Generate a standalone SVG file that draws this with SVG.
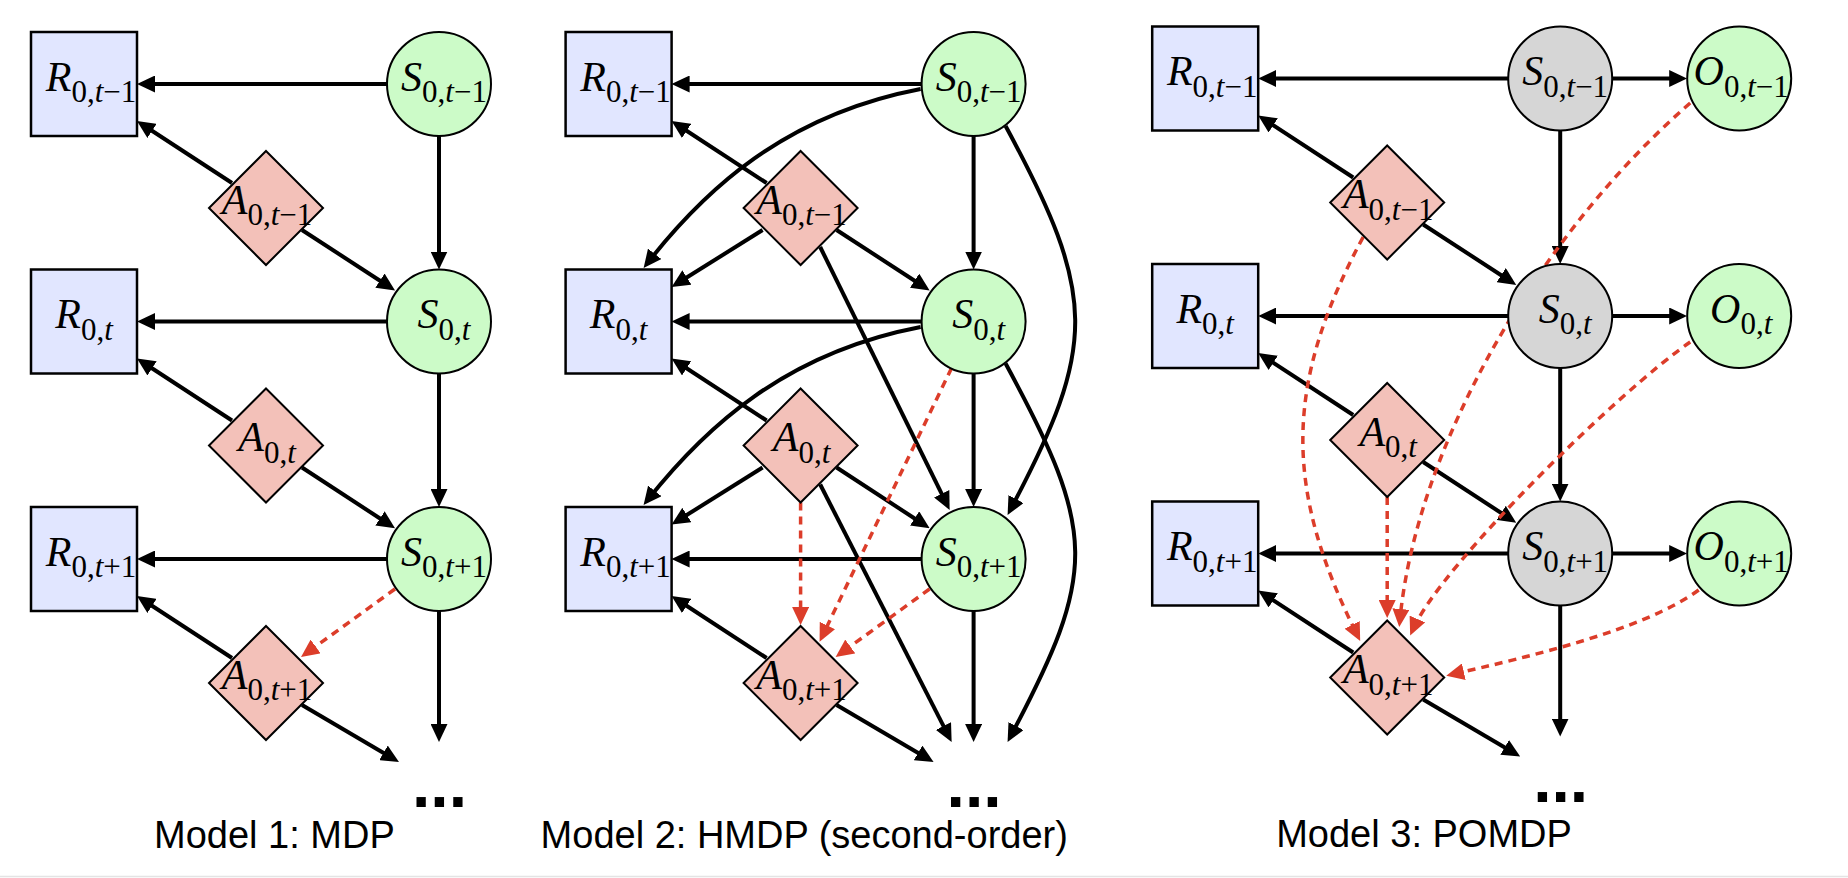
<svg xmlns="http://www.w3.org/2000/svg" width="1848" height="878" viewBox="0 0 1848 878">
<defs>
<style>
.rn{fill:#e1e6ff;stroke:#000;stroke-width:2.5}
.sn{fill:#ccfbc8;stroke:#000;stroke-width:2}
.gn{fill:#d6d6d6;stroke:#000;stroke-width:2}
.an{fill:#f3c1b9;stroke:#000;stroke-width:2}
.e{fill:none;stroke:#000;stroke-width:4;marker-end:url(#ab)}
.d{fill:none;stroke:#dc3d2a;stroke-width:3.5;stroke-dasharray:8 6;marker-end:url(#ar)}
.lb{font-family:"Liberation Serif","Times New Roman",serif;font-size:42px;text-anchor:middle;fill:#000}
.sb{font-size:31px;font-style:normal}
.it{font-style:italic}
.cap{font-family:"Liberation Sans",Arial,Helvetica,sans-serif;font-size:38px;fill:#000}
.dots{font-family:"Liberation Sans",Arial,Helvetica,sans-serif;font-size:66px;font-weight:bold;text-anchor:middle;fill:#000}
</style>
<marker id="ab" markerUnits="userSpaceOnUse" markerWidth="18" markerHeight="17" viewBox="0 0 18 17" refX="12" refY="8.5" orient="auto"><path d="M0,0 L18,8.5 L0,17 Z" fill="#000"/></marker>
<marker id="ar" markerUnits="userSpaceOnUse" markerWidth="18" markerHeight="17" viewBox="0 0 18 17" refX="12" refY="8.5" orient="auto"><path d="M0,0 L18,8.5 L0,17 Z" fill="#dc3d2a"/></marker>
</defs>
<rect x="0" y="0" width="1848" height="878" fill="#fff"/>
<line x1="0" y1="876.5" x2="1848" y2="876.5" stroke="#e4e4e4" stroke-width="1.5"/>

<!-- Model 1 -->
<g id="model1">
<g id="m1-connectors">
<path class="e" d="M387,84 H143"/>
<path class="e" d="M387,321.5 H143"/>
<path class="e" d="M387,559 H143"/>
<path class="e" d="M232,183 L142,124.3"/>
<path class="e" d="M232,420.5 L142,361.8"/>
<path class="e" d="M232,658 L142,599.3"/>
<path class="e" d="M302,230 L390,287.2"/>
<path class="e" d="M302,467.5 L390,525"/>
<path class="e" d="M302,705 L393.8,759"/>
<path class="e" d="M439,136 V263.5"/>
<path class="e" d="M439,373.5 V501"/>
<path class="e" d="M439,611 V736"/>
<path class="d" d="M395,589 L305.9,653.5"/>
</g>
<g id="m1-R0"><rect class="rn" x="31" y="32" width="106" height="104"/><text class="lb" x="91" y="90.5"><tspan class="it">R</tspan><tspan class="sb" dy="11.5">0,<tspan class="it">t</tspan>−1</tspan></text></g>
<g id="m1-R1"><rect class="rn" x="31" y="269.5" width="106" height="104"/><text class="lb" x="84" y="328"><tspan class="it">R</tspan><tspan class="sb" dy="11.5">0,<tspan class="it">t</tspan></tspan></text></g>
<g id="m1-R2"><rect class="rn" x="31" y="507" width="106" height="104"/><text class="lb" x="91" y="565.5"><tspan class="it">R</tspan><tspan class="sb" dy="11.5">0,<tspan class="it">t</tspan>+1</tspan></text></g>
<g id="m1-S0"><circle class="sn" cx="439" cy="84" r="52"/><text class="lb" x="444" y="90.5"><tspan class="it">S</tspan><tspan class="sb" dy="11.5">0,<tspan class="it">t</tspan>−1</tspan></text></g>
<g id="m1-S1"><circle class="sn" cx="439" cy="321.5" r="52"/><text class="lb" x="444" y="328"><tspan class="it">S</tspan><tspan class="sb" dy="11.5">0,<tspan class="it">t</tspan></tspan></text></g>
<g id="m1-S2"><circle class="sn" cx="439" cy="559" r="52"/><text class="lb" x="444" y="565.5"><tspan class="it">S</tspan><tspan class="sb" dy="11.5">0,<tspan class="it">t</tspan>+1</tspan></text></g>
<g id="m1-A0"><path class="an" d="M266,151 L323,208 L266,265 L209,208 Z"/><text class="lb" x="267" y="213.5"><tspan class="it">A</tspan><tspan class="sb" dy="11.5">0,<tspan class="it">t</tspan>−1</tspan></text></g>
<g id="m1-A1"><path class="an" d="M266,388.5 L323,445.5 L266,502.5 L209,445.5 Z"/><text class="lb" x="267" y="451"><tspan class="it">A</tspan><tspan class="sb" dy="11.5">0,<tspan class="it">t</tspan></tspan></text></g>
<g id="m1-A2"><path class="an" d="M266,626 L323,683 L266,740 L209,683 Z"/><text class="lb" x="267" y="688.5"><tspan class="it">A</tspan><tspan class="sb" dy="11.5">0,<tspan class="it">t</tspan>+1</tspan></text></g>
<g id="m1-more"><text class="dots" x="439.5" y="807">...</text></g>
<text class="cap" x="154" y="848">Model 1: MDP</text>
</g>

<!-- Model 2 -->
<g id="model2" transform="translate(534.6,0)">
<g id="m2-connectors">
<path class="e" d="M387,84 H143"/>
<path class="e" d="M387,321.5 H143"/>
<path class="e" d="M387,559 H143"/>
<path class="e" d="M232,183 L142,124.3"/>
<path class="e" d="M232,420.5 L142,361.8"/>
<path class="e" d="M232,658 L142,599.3"/>
<path class="e" d="M302,230 L390,287.2"/>
<path class="e" d="M302,467.5 L390,525"/>
<path class="e" d="M302,705 L393.8,759"/>
<path class="e" d="M439,136 V263.5"/>
<path class="e" d="M439,373.5 V501"/>
<path class="e" d="M439,611 V736"/>
<path class="e" d="M386,89 C250,115 170,190 112.7,263.3"/>
<path class="e" d="M386,327 C250,353 170,428 112.7,500.3"/>
<path class="e" d="M228,230 L142.1,283.8"/>
<path class="e" d="M228,467.5 L142.1,521.3"/>
<path class="e" d="M285.6,247 L412.4,504.6"/>
<path class="e" d="M285.6,484.5 L414.3,736.7"/>
<path class="e" d="M471,126 C563,296 563,345 475.8,509.7"/>
<path class="e" d="M471,363.5 C563,533 563,572 475.8,736.7"/>
<path class="d" d="M266,502.5 V619"/>
<path class="d" d="M417,368 L287.6,636.3"/>
<path class="d" d="M395,589 L305.9,653.5"/>
</g>
<g id="m2-R0"><rect class="rn" x="31" y="32" width="106" height="104"/><text class="lb" x="91" y="90.5"><tspan class="it">R</tspan><tspan class="sb" dy="11.5">0,<tspan class="it">t</tspan>−1</tspan></text></g>
<g id="m2-R1"><rect class="rn" x="31" y="269.5" width="106" height="104"/><text class="lb" x="84" y="328"><tspan class="it">R</tspan><tspan class="sb" dy="11.5">0,<tspan class="it">t</tspan></tspan></text></g>
<g id="m2-R2"><rect class="rn" x="31" y="507" width="106" height="104"/><text class="lb" x="91" y="565.5"><tspan class="it">R</tspan><tspan class="sb" dy="11.5">0,<tspan class="it">t</tspan>+1</tspan></text></g>
<g id="m2-S0"><circle class="sn" cx="439" cy="84" r="52"/><text class="lb" x="444" y="90.5"><tspan class="it">S</tspan><tspan class="sb" dy="11.5">0,<tspan class="it">t</tspan>−1</tspan></text></g>
<g id="m2-S1"><circle class="sn" cx="439" cy="321.5" r="52"/><text class="lb" x="444" y="328"><tspan class="it">S</tspan><tspan class="sb" dy="11.5">0,<tspan class="it">t</tspan></tspan></text></g>
<g id="m2-S2"><circle class="sn" cx="439" cy="559" r="52"/><text class="lb" x="444" y="565.5"><tspan class="it">S</tspan><tspan class="sb" dy="11.5">0,<tspan class="it">t</tspan>+1</tspan></text></g>
<g id="m2-A0"><path class="an" d="M266,151 L323,208 L266,265 L209,208 Z"/><text class="lb" x="267" y="213.5"><tspan class="it">A</tspan><tspan class="sb" dy="11.5">0,<tspan class="it">t</tspan>−1</tspan></text></g>
<g id="m2-A1"><path class="an" d="M266,388.5 L323,445.5 L266,502.5 L209,445.5 Z"/><text class="lb" x="267" y="451"><tspan class="it">A</tspan><tspan class="sb" dy="11.5">0,<tspan class="it">t</tspan></tspan></text></g>
<g id="m2-A2"><path class="an" d="M266,626 L323,683 L266,740 L209,683 Z"/><text class="lb" x="267" y="688.5"><tspan class="it">A</tspan><tspan class="sb" dy="11.5">0,<tspan class="it">t</tspan>+1</tspan></text></g>
<g id="m2-more"><text class="dots" x="439.5" y="807">...</text></g>
<text class="cap" x="6" y="848">Model 2: HMDP (second-order)</text>
</g>

<!-- Model 3 -->
<g id="model3" transform="translate(1121.2,-5.5)">
<g id="m3-connectors">
<path class="e" d="M387,84 H143"/>
<path class="e" d="M387,321.5 H143"/>
<path class="e" d="M387,559 H143"/>
<path class="e" d="M491,84 H560"/>
<path class="e" d="M491,321.5 H560"/>
<path class="e" d="M491,559 H560"/>
<path class="e" d="M232,183 L142,124.3"/>
<path class="e" d="M232,420.5 L142,361.8"/>
<path class="e" d="M232,658 L142,599.3"/>
<path class="e" d="M302,230 L390,287.2"/>
<path class="e" d="M302,467.5 L390,525"/>
<path class="e" d="M302,705 L393.8,759"/>
<path class="e" d="M439,136 V263.5"/>
<path class="e" d="M439,373.5 V501"/>
<path class="e" d="M439,611 V736"/>
<path class="d" d="M242,242.5 C161,392.5 164,496.5 236.3,641.1"/>
<path class="d" d="M266,502.5 V617.5"/>
<path class="d" d="M569,108.5 C420,238 295,450 278.6,626.5"/>
<path class="d" d="M569,347.5 C500,395 320,570 291.4,635.5"/>
<path class="d" d="M577.5,595.5 C523,635.5 406,662.6 330.9,679.9"/>
</g>
<g id="m3-R0"><rect class="rn" x="31" y="32" width="106" height="104"/><text class="lb" x="91" y="90.5"><tspan class="it">R</tspan><tspan class="sb" dy="11.5">0,<tspan class="it">t</tspan>−1</tspan></text></g>
<g id="m3-R1"><rect class="rn" x="31" y="269.5" width="106" height="104"/><text class="lb" x="84" y="328"><tspan class="it">R</tspan><tspan class="sb" dy="11.5">0,<tspan class="it">t</tspan></tspan></text></g>
<g id="m3-R2"><rect class="rn" x="31" y="507" width="106" height="104"/><text class="lb" x="91" y="565.5"><tspan class="it">R</tspan><tspan class="sb" dy="11.5">0,<tspan class="it">t</tspan>+1</tspan></text></g>
<g id="m3-S0"><circle class="gn" cx="439" cy="84" r="52"/><text class="lb" x="444" y="90.5"><tspan class="it">S</tspan><tspan class="sb" dy="11.5">0,<tspan class="it">t</tspan>−1</tspan></text></g>
<g id="m3-S1"><circle class="gn" cx="439" cy="321.5" r="52"/><text class="lb" x="444" y="328"><tspan class="it">S</tspan><tspan class="sb" dy="11.5">0,<tspan class="it">t</tspan></tspan></text></g>
<g id="m3-S2"><circle class="gn" cx="439" cy="559" r="52"/><text class="lb" x="444" y="565.5"><tspan class="it">S</tspan><tspan class="sb" dy="11.5">0,<tspan class="it">t</tspan>+1</tspan></text></g>
<g id="m3-O0"><circle class="sn" cx="618" cy="84" r="52"/><text class="lb" x="620" y="90.5"><tspan class="it">O</tspan><tspan class="sb" dy="11.5">0,<tspan class="it">t</tspan>−1</tspan></text></g>
<g id="m3-O1"><circle class="sn" cx="618" cy="321.5" r="52"/><text class="lb" x="620" y="328"><tspan class="it">O</tspan><tspan class="sb" dy="11.5">0,<tspan class="it">t</tspan></tspan></text></g>
<g id="m3-O2"><circle class="sn" cx="618" cy="559" r="52"/><text class="lb" x="620" y="565.5"><tspan class="it">O</tspan><tspan class="sb" dy="11.5">0,<tspan class="it">t</tspan>+1</tspan></text></g>
<g id="m3-A0"><path class="an" d="M266,151 L323,208 L266,265 L209,208 Z"/><text class="lb" x="267" y="213.5"><tspan class="it">A</tspan><tspan class="sb" dy="11.5">0,<tspan class="it">t</tspan>−1</tspan></text></g>
<g id="m3-A1"><path class="an" d="M266,388.5 L323,445.5 L266,502.5 L209,445.5 Z"/><text class="lb" x="267" y="451"><tspan class="it">A</tspan><tspan class="sb" dy="11.5">0,<tspan class="it">t</tspan></tspan></text></g>
<g id="m3-A2"><path class="an" d="M266,626 L323,683 L266,740 L209,683 Z"/><text class="lb" x="267" y="688.5"><tspan class="it">A</tspan><tspan class="sb" dy="11.5">0,<tspan class="it">t</tspan>+1</tspan></text></g>
<g id="m3-more"><text class="dots" x="439.5" y="807">...</text></g>
<text class="cap" x="155" y="852">Model 3: POMDP</text>
</g>
</svg>
